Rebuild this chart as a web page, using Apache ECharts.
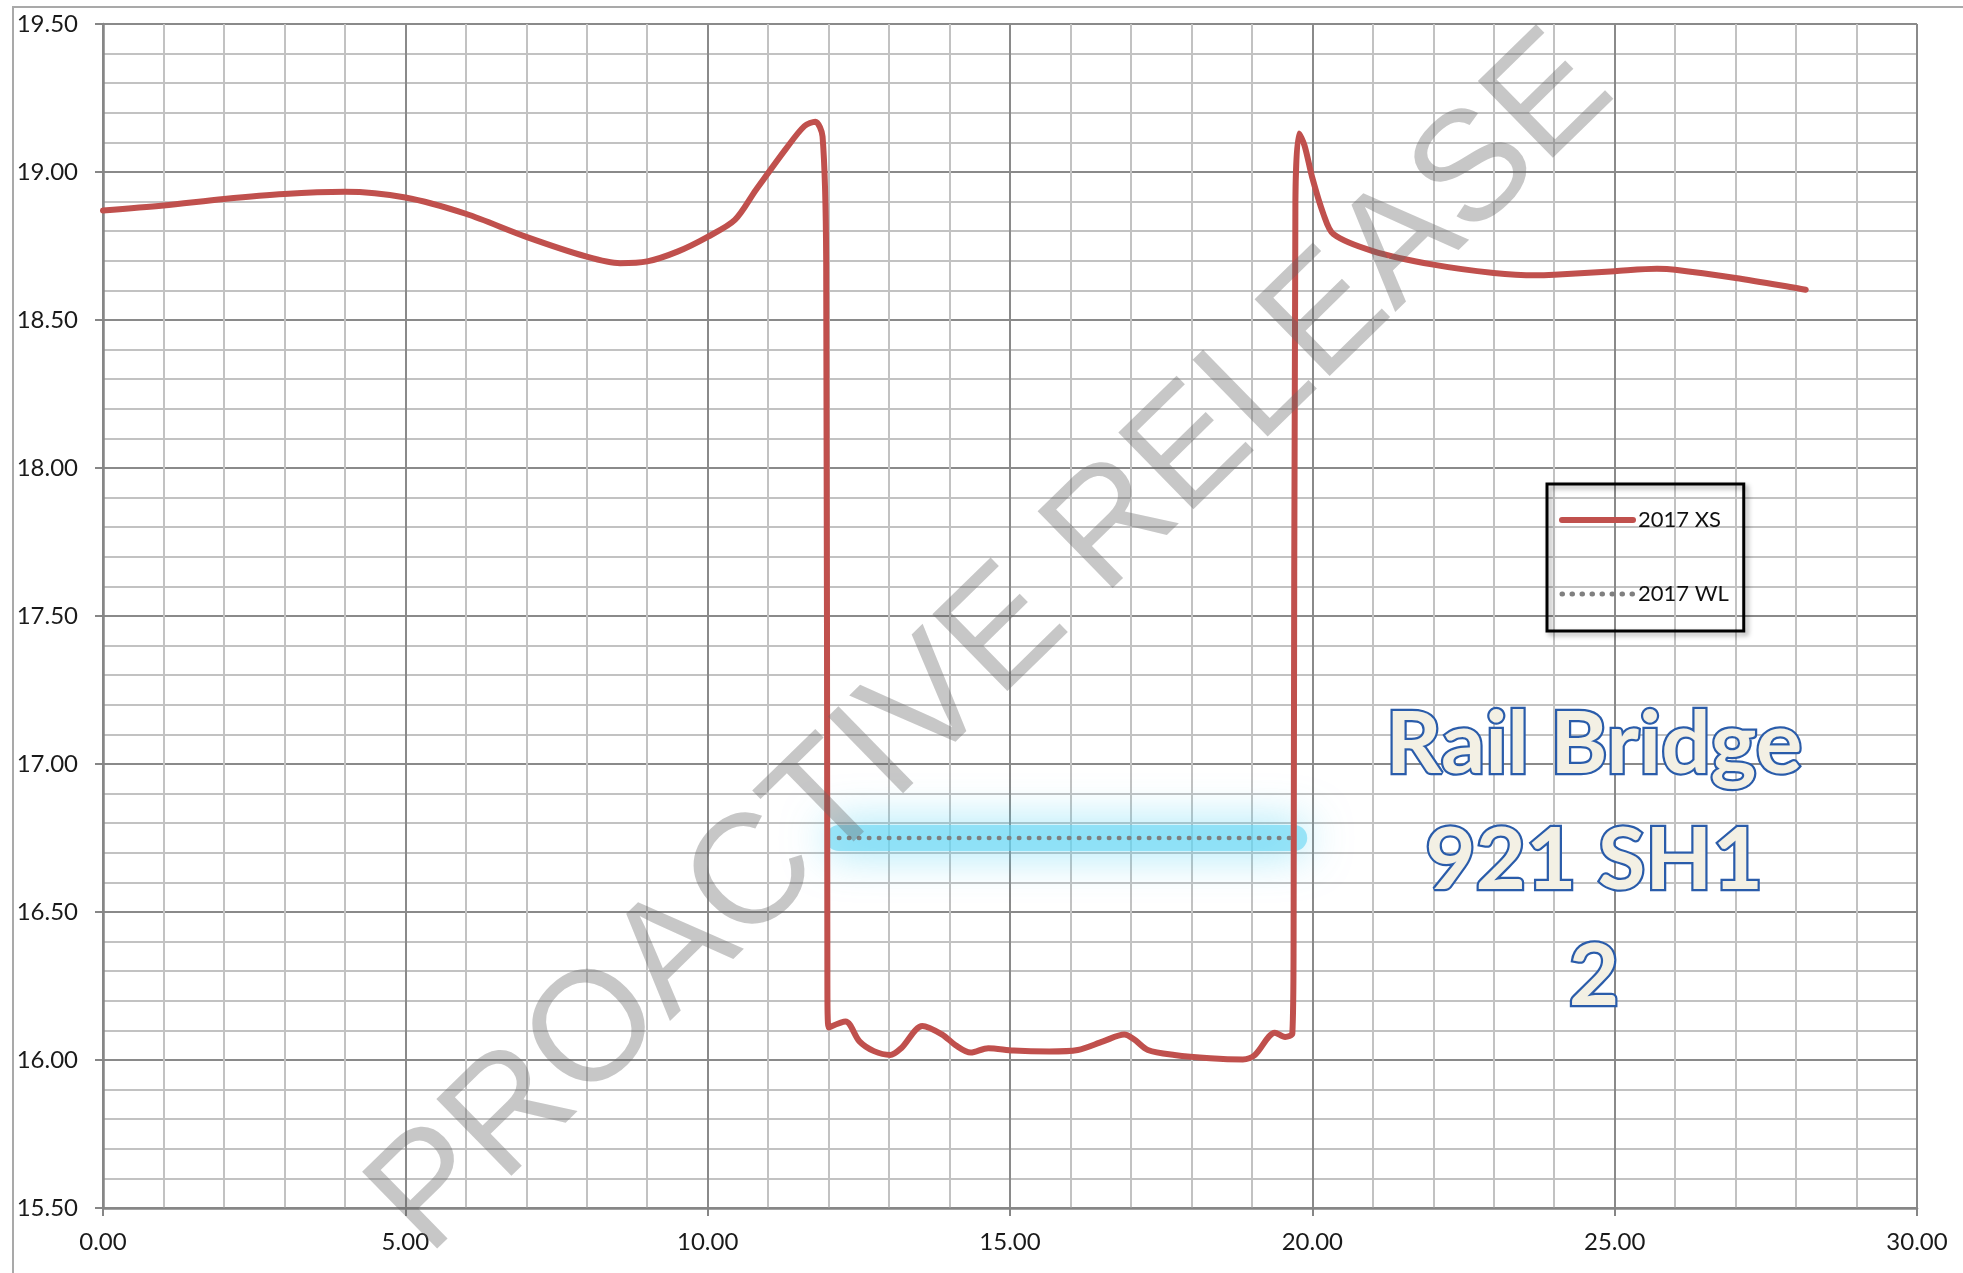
<!DOCTYPE html>
<html>
<head>
<meta charset="utf-8">
<script src="https://cdn.jsdelivr.net/npm/echarts@6/dist/echarts.min.js"></script>
<style>
html,body{margin:0;padding:0;background:#fff;}
#chart{width:1963px;height:1273px;}
</style>
</head>
<body>
<div id="chart"></div>
<script>
// ---- data ----
const xsName = '2017 XS';
const wlName = '2017 WL';
const xsDist = [0, 1, 2, 3, 4, 5, 6, 7, 8, 8.55, 9, 9.5, 10, 10.45, 10.8, 11.3, 11.6, 11.78, 11.9, 11.96, 11.98, 12.0,
  12.28, 12.51, 12.75, 13.02, 13.2, 13.55, 13.88, 14.1, 14.35, 14.64, 15.06, 15.65, 16.12, 16.54, 16.89, 17.05, 17.28,
  17.72, 18.31, 18.85, 19.05, 19.38, 19.55, 19.67, 19.69, 19.72, 19.78, 19.87, 20.0, 20.18, 20.35, 21.0, 22.0, 23.0,
  23.7, 24.0, 25.0, 25.7, 26.0, 27.0, 28.0, 28.16];
const xsElev = [18.87, 18.887, 18.909, 18.926, 18.933, 18.914, 18.859, 18.781, 18.714, 18.692, 18.698, 18.731, 18.781, 18.838, 18.94, 19.08, 19.155, 19.17, 19.12, 18.7, 16.25, 16.11,
  16.13, 16.063, 16.03, 16.017, 16.04, 16.115, 16.086, 16.05, 16.025, 16.04, 16.032, 16.029, 16.034, 16.063, 16.086, 16.07, 16.034,
  16.017, 16.006, 16.002, 16.017, 16.092, 16.078, 16.09, 16.4, 18.9, 19.13, 19.09, 18.98, 18.86, 18.79, 18.733, 18.687, 18.659,
  18.651, 18.653, 18.665, 18.673, 18.67, 18.642, 18.608, 18.602];
const wlDist = [12.17, 19.7];
const wlElev = [16.75, 16.75];
const titleLines = ['Rail Bridge', '921 SH1', '2'];
const watermark = 'PROACTIVE RELEASE';

const xsData = xsDist.map((d, i) => [d, xsElev[i]]);
const wlData = wlDist.map((d, i) => [d, wlElev[i]]);

const xsColor = '#c0504d';
const wlColor = '#7f7f7f';
const labelFont = 'Lato';
const chart = echarts.init(document.getElementById('chart'), null, {renderer: 'canvas'});
chart.setOption({
  animation: false,
  backgroundColor: '#fff',
  grid: {left: 103, right: 46, top: 24, bottom: 65, containLabel: false},
  xAxis: {
    type: 'value', min: 0, max: 30, interval: 5,
    axisLine: {show: true, onZero: false, lineStyle: {color: '#868686', width: 2.5}},
    axisTick: {show: true, length: 8, lineStyle: {color: '#868686', width: 2}},
    axisLabel: {margin: 22, fontSize: 24, fontFamily: labelFont, color: '#1a1a1a', formatter: v => v.toFixed(2)},
    splitLine: {show: true, lineStyle: {color: '#8a8a8a', width: 2}},
    minorTick: {show: false, splitNumber: 5},
    minorSplitLine: {show: true, lineStyle: {color: '#c2c2c2', width: 2}}
  },
  yAxis: {
    type: 'value', min: 15.5, max: 19.5, interval: 0.5,
    axisLine: {show: true, onZero: false, lineStyle: {color: '#868686', width: 2.5}},
    axisTick: {show: true, length: 8, lineStyle: {color: '#868686', width: 2}},
    axisLabel: {margin: 25, fontSize: 24, fontFamily: labelFont, color: '#1a1a1a', formatter: v => v.toFixed(2)},
    splitLine: {show: true, lineStyle: {color: '#8a8a8a', width: 2}},
    minorTick: {show: false, splitNumber: 5},
    minorSplitLine: {show: true, lineStyle: {color: '#c2c2c2', width: 2}}
  },
  legend: {
    orient: 'vertical', left: 1547, top: 484,
    padding: [25, 15, 26, 12],
    itemGap: 52, itemWidth: 71, itemHeight: 14,
    borderColor: '#000', borderWidth: 3,
    shadowColor: 'rgba(0,0,0,0.35)', shadowBlur: 5, shadowOffsetX: 3, shadowOffsetY: 3,
    textStyle: {fontSize: 22, fontFamily: labelFont, color: '#111'},
    data: [
      {name: xsName, itemStyle: {opacity: 0}, lineStyle: {color: xsColor, width: 6, cap: 'round'}},
      {name: wlName, itemStyle: {opacity: 0}, lineStyle: {color: wlColor, width: 5, type: [0.5, 9.5], cap: 'round'}}
    ]
  },
  series: [
    {
      name: 'glow', type: 'line', data: wlData, symbol: 'none', silent: true, z: 1,
      lineStyle: {color: 'rgba(105,215,244,0.62)', width: 26, cap: 'round', shadowBlur: 44, shadowColor: 'rgba(70,205,240,1)'}
    },
    {
      name: xsName, type: 'line', data: xsData, symbol: 'none', smooth: 0.3, z: 3, color: xsColor,
      lineStyle: {color: xsColor, width: 6, cap: 'round', join: 'round'}
    },
    {
      name: wlName, type: 'line', data: wlData, symbol: 'none', z: 4, color: wlColor,
      lineStyle: {color: wlColor, width: 4.5, type: [0.5, 9.5], cap: 'round'}
    }
  ],
  graphic: [
    {type: 'rect', silent: true, z: -10, shape: {x: 13, y: 7, width: 2100, height: 1500},
      style: {fill: 'none', stroke: '#a9a9a9', lineWidth: 2}},
    {type: 'text', silent: true, z: 100, x: 993, y: 645, rotation: 44.35 * Math.PI / 180,
      style: {text: watermark, font: '156px "Liberation Sans"', fill: 'rgba(100,100,100,0.36)',
        textAlign: 'center', textVerticalAlign: 'middle'}},
    {type: 'text', silent: true, z: 101, x: 1594, y: 861,
      style: {text: titleLines.join('\n'), font: 'bold 87px Lato', lineHeight: 116,
        fill: '#f3f0e4', stroke: '#2a5caa', lineWidth: 4.5,
        textAlign: 'center', textVerticalAlign: 'middle',
        shadowBlur: 6, shadowColor: 'rgba(40,90,170,0.45)'}}
  ]
});
</script>
</body>
</html>
